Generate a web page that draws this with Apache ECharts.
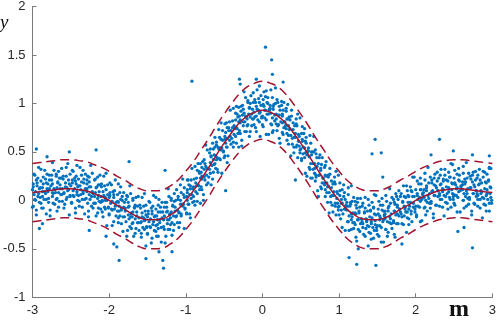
<!DOCTYPE html>
<html>
<head>
<meta charset="utf-8">
<script src="https://cdn.jsdelivr.net/npm/echarts/dist/echarts.min.js"></script>
<style>
  html, body { margin: 0; padding: 0; background: #fff; }
  #box { width: 499px; height: 323px; }
</style>
</head>
<body>
<div id="box"></div>
<script>
// tick labels
var xTicks = [-3, -2, -1, 0, 1, 2, 3];
var yTicks = [-1, -0.5, 0, 0.5, 1, 1.5, 2];

// curve x positions (tenths) and mean / band values (hundredths)
var curveX = [-30,-29,-28,-27,-26,-25,-24,-23,-22,-21,-20,-19,-18,-17,-16,-15,-14,-13,-12,-11,-10,-9,-8,-7,-6,-5,-4,-3,-2,-1,0,
  1,2,3,4,5,6,7,8,9,10,11,12,13,14,15,16,17,18,19,20,21,22,23,24,25,26,27,28,29,30];
var meanY = [8,9,10,11,12,12,11,10,7,4,0,-5,-9,-14,-18,-20,-20,-19,-15,-9,0,10,22,34,47,59,70,80,87,91,93,
  91,87,80,70,59,47,34,22,10,0,-9,-15,-19,-20,-20,-18,-14,-9,-5,0,4,7,10,11,12,12,11,10,9,8];
var upperY = [38,39,40,41,42,42,41,40,37,34,30,25,21,16,12,10,10,11,15,21,30,40,52,64,77,89,100,110,117,121,123,
  121,117,110,100,89,77,64,52,40,30,21,15,11,10,10,12,16,21,25,30,34,37,40,41,42,42,41,40,39,38];
var lowerY = [-22,-21,-20,-19,-18,-18,-19,-20,-23,-26,-30,-35,-39,-44,-48,-50,-50,-49,-45,-39,-30,-20,-8,4,17,29,40,50,57,61,63,
  61,57,50,40,29,17,4,-8,-20,-30,-39,-45,-49,-50,-50,-48,-44,-39,-35,-30,-26,-23,-20,-19,-18,-18,-19,-20,-21,-22];

// observations as x,y pairs (hundredths), one array per unit of m
var ptsA = [-300,11,-299,-6,-299,17,-298,6,-297,26,-296,0,-295,21,-295,-10,-294,15,-293,4,-292,34,-291,-2,
  -290,3,-289,20,-288,-8,-287,13,-287,9,-286,24,-285,1,-284,31,-283,7,-282,18,-282,-14,-281,12,
  -280,17,-280,9,-279,-2,-278,26,-277,-10,-276,15,-275,21,-274,4,-274,39,-273,7,-272,12,-271,-4,
  -269,1,-269,25,-268,13,-268,-11,-267,19,-266,8,-266,30,-265,-1,-264,16,-263,23,-262,6,-261,12,
  -260,25,-259,7,-258,-4,-257,18,-256,34,-255,3,-255,13,-254,10,-253,21,-252,-15,-251,27,-251,5,
  -250,15,-249,-2,-248,21,-247,10,-247,30,-246,4,-245,23,-244,-8,-243,17,-242,6,-242,36,-241,0,
  -240,5,-240,22,-239,-6,-238,15,-237,11,-236,26,-235,1,-234,31,-234,7,-233,18,-232,-14,-231,12,
  -229,17,-229,9,-228,-3,-228,25,-227,-11,-226,14,-226,19,-225,1,-224,36,-223,4,-222,9,-221,-8,
  -220,-3,-219,21,-218,8,-217,-16,-216,14,-215,2,-215,24,-214,-8,-213,9,-212,16,-211,-2,-211,4,
  -210,17,-209,-1,-209,-12,-208,9,-207,25,-206,-7,-205,3,-205,0,-204,11,-203,-26,-202,16,-201,-7,
  -295,53,-281,45,-252,50,-217,52,-291,-29,-287,-24,-226,-31,
  -300,-7,-299,14,-298,27,-297,1,-296,9,-295,-15,-294,18,-293,23,-292,7,-291,12,
  -290,13,-289,-3,-289,32,-287,4,-286,17,-286,-8,-284,9,-283,22,-282,1,-281,27,
  -279,2,-278,12,-278,21,-277,-16,-275,26,-274,8,-274,17,-273,-3,-272,31,-271,11,
  -270,8,-269,27,-268,2,-267,18,-266,-7,-265,23,-264,12,-263,6,-262,33,-261,-1,
  -260,22,-259,8,-259,-8,-257,14,-256,25,-256,1,-254,38,-253,11,-252,17,-251,4,
  -249,-3,-248,18,-248,31,-247,5,-245,12,-244,-13,-244,20,-243,25,-242,9,-241,14,
  -240,15,-239,-1,-238,34,-237,6,-236,19,-235,-7,-234,9,-233,22,-232,1,-231,27,
  -230,2,-229,12,-229,21,-227,-17,-226,24,-226,6,-224,14,-223,-6,-222,28,-221,7,
  -219,4,-218,22,-218,-3,-217,13,-215,-13,-214,16,-214,5,-213,-1,-212,26,-211,-9,
  -210,14,-209,0,-208,-17,-207,5,-206,15,-205,-9,-204,28,-203,0,-202,6,-201,-8];
var ptsB = [-200,3,-200,-14,-199,8,-198,-3,-197,16,-196,-10,-195,9,-194,-22,-194,3,-193,-9,-192,21,-191,-16,
  -189,-11,-189,6,-188,-23,-188,-2,-187,-6,-186,8,-186,-16,-185,14,-184,-10,-183,0,-182,-32,-181,-7,
  -180,-2,-179,-11,-178,-22,-177,5,-176,-31,-175,-7,-175,-2,-174,-19,-173,15,-172,-17,-171,-13,-171,-29,
  -170,-24,-169,0,-169,-12,-168,-37,-167,-7,-166,-19,-165,3,-165,-29,-164,-12,-163,-6,-162,-23,-161,-18,
  -160,-5,-159,-23,-158,-34,-157,-13,-157,3,-156,-28,-155,-18,-154,-21,-153,-11,-152,-47,-152,-5,-151,-27,
  -150,-17,-150,-34,-149,-11,-148,-22,-147,-2,-146,-28,-145,-8,-144,-39,-144,-14,-143,-25,-142,5,-141,-31,
  -139,-26,-139,-9,-138,-37,-138,-16,-137,-20,-136,-5,-136,-29,-135,1,-134,-23,-133,-12,-132,-43,-131,-18,
  -130,-12,-129,-20,-128,-30,-127,-2,-126,-37,-125,-12,-125,-7,-124,-24,-123,12,-122,-20,-121,-14,-121,-30,
  -120,-25,-119,0,-119,-12,-118,-36,-117,-5,-116,-16,-115,7,-115,-25,-114,-7,-113,0,-112,-16,-111,-10,
  -110,4,-109,-13,-108,-23,-107,0,-107,16,-106,-14,-105,-4,-104,-6,-103,6,-102,-29,-102,13,-101,-8,
  -204,-37,-194,-45,-190,-48,-187,-62,-152,-60,-135,-53,-130,-62,-129,-70,-118,-53,-174,40,-127,31,
  -200,-15,-199,5,-199,18,-197,-9,-196,-1,-196,-26,-194,6,-193,10,-192,-6,-191,-2,
  -189,-1,-188,-18,-188,17,-187,-11,-185,1,-184,-24,-184,-8,-183,4,-182,-17,-181,8,
  -180,-17,-179,-8,-178,1,-177,-37,-176,4,-175,-15,-174,-6,-173,-27,-172,7,-171,-14,
  -170,-17,-169,2,-169,-23,-167,-8,-166,-34,-166,-5,-164,-16,-163,-23,-162,4,-161,-31,
  -159,-8,-158,-22,-158,-38,-157,-17,-155,-6,-154,-30,-154,7,-153,-20,-152,-15,-151,-28,
  -150,-35,-149,-14,-148,-1,-147,-27,-146,-19,-145,-44,-144,-11,-143,-6,-142,-22,-141,-17,
  -140,-16,-139,-32,-139,3,-137,-25,-136,-12,-136,-37,-134,-20,-133,-7,-132,-28,-131,-2,
  -129,-27,-128,-16,-128,-7,-127,-44,-125,-2,-124,-20,-124,-11,-123,-30,-122,4,-121,-15,
  -120,-18,-119,2,-118,-23,-117,-6,-116,-31,-115,-1,-114,-11,-113,-17,-112,11,-111,-23,
  -110,1,-109,-12,-109,-28,-107,-4,-106,8,-106,-16,-104,22,-103,-4,-102,3,-101,-9];
var ptsC = [-99,4,-99,-13,-98,11,-98,0,-97,21,-96,-4,-96,16,-95,-14,-94,12,-93,2,-92,33,-91,-2,
  -90,4,-89,22,-88,-5,-87,18,-86,15,-85,31,-85,7,-84,38,-83,15,-82,28,-81,-3,-81,23,
  -80,29,-79,22,-79,11,-78,40,-77,6,-76,32,-75,38,-75,21,-74,57,-73,26,-72,33,-71,18,
  -70,24,-69,49,-68,39,-67,16,-67,46,-66,36,-65,59,-64,29,-63,47,-62,55,-62,38,-61,46,
  -60,60,-60,42,-59,32,-58,55,-57,73,-56,43,-55,54,-54,52,-54,63,-53,28,-52,72,-51,51,
  -49,63,-49,46,-48,70,-48,59,-47,80,-46,55,-46,75,-45,46,-44,72,-43,62,-42,93,-41,58,
  -40,64,-39,82,-38,55,-37,77,-36,74,-35,90,-35,66,-34,97,-33,74,-32,86,-31,55,-31,81,
  -30,87,-29,80,-29,69,-28,97,-27,62,-26,88,-25,94,-25,77,-24,112,-23,81,-22,87,-21,71,
  -20,77,-19,101,-18,89,-17,66,-17,96,-16,86,-15,108,-14,77,-13,94,-12,101,-12,84,-11,91,
  -10,104,-10,86,-9,75,-8,97,-7,114,-6,83,-5,93,-4,90,-4,101,-3,66,-2,108,-1,86,
  -92,123,-30,125,-29,120,-8,125,-48,10,
  -99,-14,-98,8,-98,21,-97,-4,-95,6,-94,-18,-94,15,-93,21,-92,6,-91,12,
  -90,14,-89,-1,-88,35,-87,9,-86,23,-85,-1,-84,16,-83,30,-82,11,-81,38,
  -80,14,-79,25,-79,34,-77,0,-76,42,-76,24,-74,35,-73,16,-72,52,-71,33,
  -69,32,-68,53,-68,28,-67,45,-65,22,-64,53,-64,42,-63,37,-62,65,-61,33,
  -60,57,-59,44,-58,29,-57,53,-56,65,-55,42,-54,80,-53,54,-52,62,-51,50,
  -50,44,-49,66,-49,79,-47,55,-46,64,-46,39,-44,75,-43,81,-42,66,-41,72,
  -39,75,-38,60,-38,95,-37,68,-35,83,-34,59,-34,75,-33,89,-32,69,-31,96,
  -30,72,-29,83,-28,92,-27,56,-26,98,-25,81,-24,90,-23,71,-22,106,-21,86,
  -20,84,-19,103,-19,78,-17,95,-16,71,-16,100,-14,89,-13,84,-12,111,-11,78,
  -9,101,-8,87,-8,71,-7,94,-5,105,-4,81,-4,118,-3,91,-2,98,-1,85];
var ptsD = [0,87,1,104,1,76,2,97,3,93,4,107,5,83,5,113,6,89,7,100,8,68,9,93,
  10,98,11,90,12,78,13,106,13,70,14,94,15,99,16,82,17,116,18,84,18,89,19,72,
  20,77,20,101,21,88,22,64,23,93,24,81,25,102,26,70,26,87,27,93,28,75,29,81,
  31,92,31,74,32,62,32,84,33,99,34,67,34,77,35,73,36,83,37,46,38,87,39,64,
  40,73,41,55,42,77,43,65,44,84,45,57,45,77,46,44,47,68,48,56,49,85,49,49,
  50,53,51,69,51,41,52,61,53,55,54,69,55,44,55,74,56,49,57,59,58,25,59,50,
  60,54,61,45,62,32,63,59,63,23,64,47,65,50,66,32,67,66,68,33,68,38,69,20,
  70,24,70,48,71,35,72,10,73,38,74,26,75,47,76,14,76,31,77,37,78,18,79,23,
  81,34,81,16,82,4,82,26,83,40,84,8,84,18,85,14,86,24,87,-13,88,27,89,4,
  90,13,91,-5,92,17,93,5,94,24,95,-3,95,17,96,-15,97,9,98,-3,99,26,99,-10,
  4,158,12,145,13,130,27,122,43,21,
  0,78,1,99,2,112,3,85,4,93,5,68,6,101,7,106,8,89,9,94,
  10,95,11,79,11,114,13,85,14,97,14,72,16,88,17,100,18,79,19,104,
  21,78,22,88,22,97,23,59,25,98,26,80,26,89,27,68,28,101,29,81,
  30,77,31,95,32,69,33,84,34,58,35,86,36,74,37,67,38,93,39,58,
  40,80,41,65,41,49,43,69,44,79,44,55,46,89,47,61,48,66,49,52,
  51,43,52,63,52,76,53,48,55,54,56,28,56,61,57,65,58,47,59,51,
  60,51,61,34,62,67,63,38,64,50,65,23,66,38,67,50,68,28,69,52,
  70,26,71,35,71,44,73,4,74,44,74,26,76,33,77,12,78,44,79,23,
  81,18,82,36,82,11,83,25,85,-2,86,26,86,15,87,8,88,33,89,-2,
  90,20,91,5,92,-12,93,9,94,19,95,-6,96,30,97,2,98,7,99,-7];
var ptsE = [100,-6,101,10,102,-19,103,1,103,-3,104,11,105,-14,106,16,107,-9,108,1,108,-31,109,-6,
  110,-2,110,-10,111,-22,112,6,113,-31,114,-6,115,-2,116,-20,116,15,117,-17,118,-13,119,-29,
  121,-25,121,-1,122,-14,122,-38,123,-8,124,-20,124,2,125,-30,126,-13,127,-7,128,-24,129,-19,
  130,-6,131,-24,132,-35,133,-13,134,3,135,-29,135,-19,136,-22,137,-11,138,-47,139,-5,139,-27,
  140,-17,141,-34,141,-11,142,-22,143,-2,144,-28,145,-8,145,-39,146,-14,147,-25,148,5,149,-31,
  150,-26,151,-9,152,-37,153,-16,153,-20,154,-5,155,-28,156,2,157,-22,158,-11,158,-43,159,-16,
  160,-11,160,-19,161,-30,162,-1,163,-37,164,-11,165,-6,166,-23,166,12,167,-19,168,-14,169,-29,
  171,-23,171,1,172,-11,172,-35,173,-4,174,-15,174,7,175,-24,176,-7,177,1,178,-16,179,-9,
  180,4,181,-14,182,-24,183,-2,184,15,185,-16,185,-6,186,-9,187,3,188,-33,189,10,189,-12,
  190,-2,191,-19,191,4,192,-6,193,14,194,-11,195,9,195,-22,196,4,197,-7,198,24,199,-12,
  113,-59,123,-66,148,-67,125,-50,147,63,143,48,155,49,157,24,182,-45,
  100,-15,101,5,101,18,103,-10,104,-3,104,-28,106,4,107,8,108,-9,109,-5,
  111,-6,112,-22,112,13,113,-16,115,-4,116,-30,116,-14,117,-1,118,-23,119,3,
  120,-23,121,-13,122,-5,123,-42,124,-2,125,-20,126,-11,127,-32,128,2,129,-19,
  130,-22,131,-3,131,-28,133,-12,134,-37,134,-8,136,-20,137,-26,138,1,139,-33,
  141,-10,142,-24,142,-40,143,-18,145,-7,146,-31,146,6,147,-21,148,-15,149,-28,
  150,-35,151,-14,152,-1,153,-26,154,-18,155,-43,156,-10,157,-5,158,-20,159,-15,
  160,-14,161,-30,161,5,163,-22,164,-8,164,-33,166,-17,167,-3,168,-24,169,3,
  171,-21,172,-11,172,-2,173,-38,175,4,176,-14,176,-5,177,-24,178,10,179,-9,
  180,-12,181,7,182,-17,183,-1,184,-25,185,4,186,-7,187,-12,188,15,189,-18,
  190,5,191,-9,191,-25,193,-2,194,10,194,-14,196,24,197,-3,198,4,199,-9];
var ptsF = [200,-6,200,11,201,-17,202,5,203,1,204,17,205,-7,206,23,206,-1,207,11,208,-21,209,6,
  211,11,211,3,212,-7,212,21,213,-15,214,10,214,15,215,-2,216,34,217,2,218,7,219,-8,
  220,-3,221,21,222,10,223,-14,224,16,225,5,225,27,226,-5,227,13,228,20,229,4,229,10,
  230,23,231,5,231,-6,232,16,233,32,234,1,235,12,235,9,236,20,237,-16,238,26,239,4,
  240,14,241,-3,242,20,243,9,243,29,244,3,245,24,246,-7,247,18,248,7,248,37,249,1,
  250,6,250,23,251,-5,252,16,253,12,254,27,255,3,256,33,256,9,257,20,258,-12,259,14,
  261,19,261,11,262,0,262,28,263,-8,264,17,264,22,265,4,266,39,267,7,268,12,269,-4,
  270,1,271,25,272,13,273,-11,274,19,275,7,275,29,276,-3,277,14,278,21,279,4,279,10,
  280,23,281,5,281,-6,282,16,283,32,284,1,285,10,285,7,286,18,287,-18,288,24,289,2,
  290,12,291,-5,292,18,293,7,293,27,294,1,295,20,296,-11,297,14,298,3,298,33,299,-3,
  231,63,249,51,220,47,274,47,296,46,255,-32,274,-49,263,-28,296,33,290,29,
  201,-15,202,7,202,20,203,-6,205,3,206,-22,206,11,207,17,208,1,209,7,
  210,8,211,-8,212,28,213,0,214,13,215,-11,216,5,217,18,218,-3,219,24,
  220,-1,221,9,221,18,223,-18,224,23,224,5,226,15,227,-5,228,29,229,10,
  231,7,232,26,232,1,233,17,235,-7,236,22,236,11,237,5,238,32,239,-2,
  240,21,241,7,242,-9,243,13,244,24,245,1,246,38,247,11,248,17,249,4,
  250,-3,251,18,251,31,253,5,254,13,254,-12,256,21,257,26,258,10,259,15,
  261,16,262,0,262,35,263,7,265,19,266,-6,266,10,267,23,268,2,269,28,
  270,3,271,13,272,22,273,-15,274,26,275,7,276,16,277,-4,278,30,279,10,
  280,7,281,26,281,1,283,17,284,-8,284,21,286,9,287,3,288,30,289,-4,
  291,19,292,5,292,-11,293,11,295,21,296,-3,296,34,297,7,298,13,299,0];

function toPairs(flat) {
  var out = [];
  for (var i = 0; i < flat.length; i += 2) out.push([flat[i] / 100, flat[i + 1] / 100]);
  return out;
}
function toCurve(vals) {
  return vals.map(function (v, i) { return [curveX[i] / 10, v / 100]; });
}

var points = [].concat(toPairs(ptsA), toPairs(ptsB), toPairs(ptsC),
                       toPairs(ptsD), toPairs(ptsE), toPairs(ptsF));

var axisGray = '#7a7a7a';
var textGray = '#262626';
var red = '#A2142F';

var myChart = echarts.init(document.getElementById('box'), null, { renderer: 'canvas' });
var option = {
  animation: false,
  backgroundColor: '#fff',
  grid: { left: 32.5, right: 3.3, top: 4.7, bottom: 25.7 },
  xAxis: {
    type: 'value',
    min: xTicks[0], max: xTicks[xTicks.length - 1], interval: 1,
    axisLine: { onZero: false, lineStyle: { color: axisGray, width: 1 } },
    axisTick: { inside: true, length: 4, lineStyle: { color: axisGray } },
    axisLabel: { color: textGray, fontSize: 13, fontFamily: 'Liberation Sans', margin: 7 },
    splitLine: { show: false }
  },
  yAxis: {
    type: 'value',
    min: yTicks[0], max: yTicks[yTicks.length - 1], interval: 0.5,
    axisLine: { show: true, onZero: false, lineStyle: { color: axisGray, width: 1 } },
    axisTick: { show: true, inside: true, length: 4, lineStyle: { color: axisGray } },
    axisLabel: { color: textGray, fontSize: 13, fontFamily: 'Liberation Sans', margin: 7 },
    splitLine: { show: false }
  },
  graphic: [
    { type: 'text', left: 0, top: 13,
      style: { text: 'y', font: 'italic 19px "Liberation Serif", serif', fill: '#111' } },
    { type: 'text', left: 449, top: 298,
      style: { text: 'm', font: 'bold 24px "Liberation Serif", serif', fill: '#111' } }
  ],
  series: [
    {
      type: 'scatter',
      data: points,
      symbolSize: 3.3,
      itemStyle: { color: '#0072BD', opacity: 1 },
      silent: true
    },
    {
      type: 'line', data: toCurve(meanY), smooth: true, symbol: 'none',
      lineStyle: { color: red, width: 1.5 }
    },
    {
      type: 'line', data: toCurve(upperY), smooth: true, symbol: 'none',
      lineStyle: { color: red, width: 1.5, type: [9, 5] }
    },
    {
      type: 'line', data: toCurve(lowerY), smooth: true, symbol: 'none',
      lineStyle: { color: red, width: 1.5, type: [9, 5] }
    }
  ]
};
myChart.setOption(option);
</script>
</body>
</html>
